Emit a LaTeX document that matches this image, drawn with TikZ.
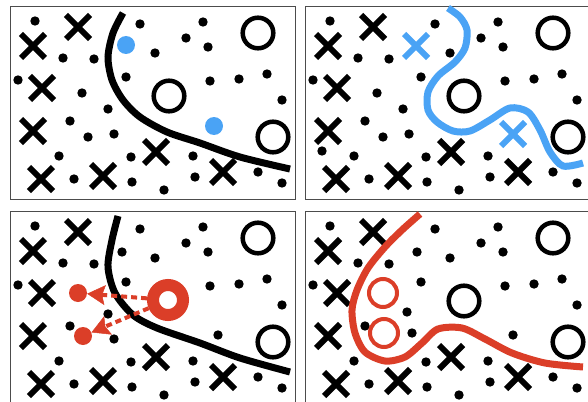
\documentclass[tikz,border=0pt]{standalone}
\usetikzlibrary{arrows.meta,positioning}

\definecolor{fitblue}{RGB}{74,163,245}
\definecolor{fitred}{RGB}{219,62,40}

\tikzset{
  panelframe/.style={draw=black!70, line width=0.9pt},
  ringmark/.style={draw, line width=4.5pt},
  fitcurve/.style={line width=7pt},
  xmark/.pic={\draw[line width=6pt] (-12,-12) -- (12,12) (-12,12) -- (12,-12);},
  reddot/.style={circle, fill=fitred, minimum size=18pt, inner sep=0pt},
  redring/.style={circle, draw=fitred, line width=12pt, minimum size=30pt, inner sep=0pt},
  dasharrow/.style={draw=fitred, line width=4pt, dash pattern=on 6pt off 4pt,
    -{Stealth[length=18pt,width=20pt,inset=3pt,fill=fitred,line width=0.5pt]}},
}

% marks shared by all four panels
\newcommand{\commonmarks}{%
  \draw[panelframe] (10,6) rectangle (295,199);
  \foreach \p in {(35,21),(140,24),(203,22),(186,38),(208,47),(155,53),(63,58),(94,59),
      (18,80),(126,77),(210,81),(239,79),(267,74),(282,100),(70,121),(59,156),(131,157),
      (193,156),(74,179),(132,182),(164,190),(195,177),(258,172),(282,183)}
    \fill \p circle (4.7);
  \foreach \p in {(33,46),(78,27),(42,88),(33,131),(41,179),(103,176),(156,152),(223,172)}
    \pic at \p {xmark};
  \draw[ringmark] (258,33) circle (15.3);
  \draw[ringmark] (273,137) circle (15.3);
}

\begin{document}
\begin{tikzpicture}[x=1pt, y=-1pt]
  \useasboundingbox (0,0) rectangle (588,401);
  \clip (0,0) rectangle (588,401);

  % Top left: smooth boundary
  \begin{scope}
    \commonmarks
    \foreach \p in {(82,93),(88,137),(108,109),(114,134)}
      \fill \p circle (4.7);
    \draw[ringmark] (169,96) circle (15.3);
    \fill[fitblue] (126,45) circle (9);
    \fill[fitblue] (214,126) circle (9);
    \draw[fitcurve] plot[smooth] coordinates {(123,13) (113,33) (108,57) (112,80) (123,100)
      (140,117) (167,132) (200,143) (240,157) (290,169)};
  \end{scope}

  % Top right: wiggly boundary
  \begin{scope}[shift={(295,0)}]
    \commonmarks
    \foreach \p in {(82,93),(88,137),(108,109),(114,134),(27,151)}
      \fill \p circle (4.7);
    \draw[ringmark] (169,96) circle (15.3);
    \pic[fitblue] at (121,46) {xmark};
    \pic[fitblue] at (218,134) {xmark};
    \draw[fitcurve, fitblue] plot[smooth] coordinates {(153,8) (165,17) (172,30) (170,48)
      (160,62) (143,76) (133,92) (133,110) (142,122) (158,131) (175,131) (195,120)
      (215,108) (233,112) (245,130) (255,152) (268,166) (288,163)};
  \end{scope}

  % Bottom left: one point pushes two others
  \begin{scope}[shift={(0,205)}]
    \commonmarks
    \foreach \p in {(108,109),(114,134),(122,47),(218,130)}
      \fill \p circle (4.7);
    \draw[fitcurve] plot[smooth] coordinates {(118,11) (112,35) (108,62) (115,88) (133,110)
      (157,123) (200,138) (240,153) (290,167)};
    \node[reddot] (pushA) at (78,88) {};
    \node[reddot] (pushB) at (83,131) {};
    \node[redring] (pusher) at (168,95) {};
    \draw[dasharrow] (pusher) -- (pushA);
    \draw[dasharrow] (pusher) -- (pushB);
  \end{scope}

  % Bottom right: boundary bent round two points
  \begin{scope}[shift={(295,205)}]
    \commonmarks
    \foreach \p in {(112,107),(117,128),(122,47),(218,130)}
      \fill \p circle (4.7);
    \draw[ringmark] (169,96) circle (15.3);
    \draw[fitred, line width=4pt] (88,88) circle (14);
    \draw[fitred, line width=4pt] (89,128) circle (14);
    \draw[fitcurve, fitred] plot[smooth] coordinates {(125,9) (107,25) (90,42) (73,63)
      (62,85) (57,105) (60,128) (70,147) (90,156) (110,152) (127,138) (143,124) (167,123)
      (190,134) (217,148) (250,158) (288,162)};
  \end{scope}
\end{tikzpicture}
\end{document}
